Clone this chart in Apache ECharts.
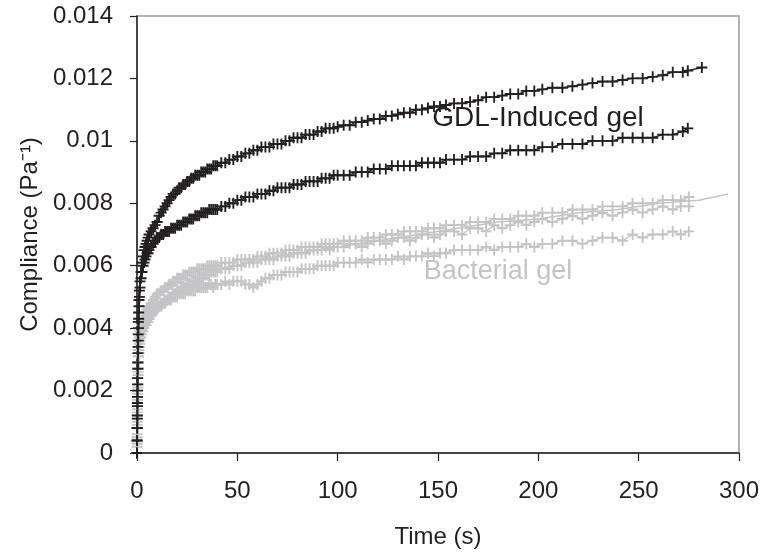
<!DOCTYPE html>
<html>
<head>
<meta charset="utf-8">
<script src="https://cdn.jsdelivr.net/npm/echarts@6/dist/echarts.min.js"></script>
<style>
html,body{margin:0;padding:0;background:#fff;}
#chart{width:762px;height:554px;}
</style>
</head>
<body>
<div id="chart"></div>
<script>
// Time points (s)
const tGdl = [0, 0.05, 0.1, 0.15, 0.2, 0.25, 0.3, 0.4, 0.5, 0.6,
  0.7, 0.8, 1, 1.2, 1.5, 2, 2.5, 3, 3.5, 4,
  4.5, 5, 5.5, 6, 7, 8, 9, 10, 11, 12,
  13, 14, 15, 16, 17, 18, 19, 20, 21, 22,
  23, 24, 25, 26, 27, 28, 29, 30, 31, 32,
  33, 34, 35, 36, 37, 38, 39, 40, 42, 44,
  46, 48, 50, 52, 54, 56, 58, 60, 62, 64,
  66, 68, 70, 72, 74, 76, 78, 80, 82, 84,
  86, 88, 90, 92, 94, 96, 98, 100, 103, 106,
  109, 112, 115, 118, 121, 124, 127, 130, 133, 136,
  139, 142, 145, 148, 151, 154, 158, 162, 166, 170,
  174, 178, 182, 186, 190, 194, 198, 202, 207, 212,
  217, 222, 227, 232, 237, 242, 247, 252, 257, 262,
  267, 272, 274.5, 281.5];
const tBac = [0, 0.05, 0.1, 0.15, 0.2, 0.25, 0.3, 0.4, 0.5, 0.6,
  0.7, 0.8, 1, 1.2, 1.5, 2, 2.5, 3, 3.5, 4,
  4.5, 5, 5.5, 6, 7, 8, 9, 10, 11, 12,
  13, 14, 15, 16, 17, 18, 19, 20, 21, 22,
  23, 24, 25, 26, 27, 28, 29, 30, 31, 32,
  33, 34, 35, 36, 37, 38, 39, 40, 42, 44,
  46, 48, 50, 52, 54, 56, 58, 60, 62, 64,
  66, 68, 70, 72, 74, 76, 78, 80, 82, 84,
  86, 88, 90, 92, 94, 96, 98, 100, 103, 106,
  109, 112, 115, 118, 121, 124, 127, 130, 133, 136,
  139, 142, 145, 148, 151, 154, 158, 162, 166, 170,
  174, 178, 182, 186, 190, 194, 198, 202, 207, 212,
  217, 222, 227, 232, 237, 242, 247, 252, 257, 262,
  267, 271, 275];
const tFit = [0, 0.5, 1, 2, 4, 6, 10, 15, 20, 30, 40, 50, 60, 80, 100, 120, 140, 160, 180, 200, 220, 240, 260, 280, 294.5];

// Compliance (1/Pa)
const gdlUpper = [0, 0.0004, 0.0008, 0.0012, 0.0016, 0.0020, 0.0024, 0.0029, 0.0034, 0.0038,
  0.0042, 0.0045, 0.0049, 0.0052, 0.0055, 0.0058, 0.0061, 0.0063, 0.0065, 0.0066,
  0.0067, 0.0068, 0.0069, 0.0070, 0.0071, 0.0072, 0.0073, 0.0074, 0.0076, 0.0077,
  0.0078, 0.0079, 0.0080, 0.0081, 0.0082, 0.0083, 0.0083, 0.0084, 0.0085, 0.0085,
  0.0086, 0.0086, 0.0087, 0.0087, 0.0088, 0.0088, 0.0089, 0.0089, 0.0089, 0.0090,
  0.0090, 0.0090, 0.0091, 0.0091, 0.0091, 0.0092, 0.0092, 0.0092, 0.0093, 0.0093,
  0.0094, 0.0094, 0.0095, 0.0095, 0.0096, 0.0096, 0.0097, 0.0097, 0.0098, 0.0098,
  0.0098, 0.0099, 0.0099, 0.0099, 0.0100, 0.0100, 0.0101, 0.0101, 0.0101, 0.0102,
  0.0102, 0.0102, 0.0103, 0.0103, 0.0104, 0.0104, 0.0104, 0.01045, 0.0105, 0.0105,
  0.0106, 0.0106, 0.01065, 0.0107, 0.0107, 0.0108, 0.0108, 0.01085, 0.0109, 0.0109,
  0.0110, 0.0110, 0.01105, 0.0111, 0.0111, 0.01115, 0.0112, 0.0112, 0.01125, 0.0113,
  0.0114, 0.0114, 0.01145, 0.0115, 0.0115, 0.0116, 0.0116, 0.01165, 0.0117, 0.0117,
  0.01175, 0.0118, 0.01185, 0.0119, 0.0119, 0.01195, 0.0120, 0.0120, 0.01205, 0.0121,
  0.0122, 0.0122, 0.01225, 0.01235];
const gdlLower = [0, 0.0004, 0.0008, 0.0011, 0.0015, 0.0018, 0.0022, 0.0027, 0.0032, 0.0036,
  0.0040, 0.0043, 0.0047, 0.0050, 0.0053, 0.0056, 0.0058, 0.0060, 0.0061, 0.0062,
  0.0063, 0.0064, 0.0064, 0.0065, 0.0066, 0.0067, 0.0068, 0.0069, 0.0069, 0.0070,
  0.0070, 0.0071, 0.0071, 0.0071, 0.0072, 0.0072, 0.0072, 0.0073, 0.0073, 0.0073,
  0.0074, 0.0074, 0.0074, 0.0075, 0.0075, 0.0075, 0.0076, 0.0076, 0.0076, 0.0077,
  0.0077, 0.0077, 0.0077, 0.0078, 0.0078, 0.0078, 0.0078, 0.0078, 0.0079, 0.0079,
  0.0080, 0.0080, 0.0081, 0.0081, 0.0082, 0.0082, 0.0082, 0.0083, 0.0083, 0.0083,
  0.0084, 0.0084, 0.0085, 0.0085, 0.0085, 0.0085, 0.0086, 0.0086, 0.0086, 0.0087,
  0.0087, 0.0087, 0.0087, 0.0088, 0.0088, 0.0088, 0.0089, 0.0089, 0.0089, 0.0089,
  0.0090, 0.0090, 0.0090, 0.0091, 0.0091, 0.0091, 0.0092, 0.0092, 0.0092, 0.0092,
  0.0092, 0.0093, 0.0093, 0.0093, 0.0093, 0.0094, 0.0094, 0.0094, 0.0095, 0.0095,
  0.0095, 0.0096, 0.0096, 0.0097, 0.0097, 0.0097, 0.0097, 0.0098, 0.0098, 0.0099,
  0.0099, 0.0099, 0.0100, 0.0100, 0.0100, 0.0101, 0.0101, 0.0101, 0.0101, 0.0102,
  0.0102, 0.0103, 0.0104];
const bacA = [0, 0.0003, 0.0006, 0.0009, 0.0012, 0.0015, 0.0018, 0.0022, 0.0026, 0.0029,
  0.0031, 0.0033, 0.0035, 0.0037, 0.0039, 0.0041, 0.0042, 0.0043, 0.0044, 0.0045,
  0.0045, 0.0046, 0.0046, 0.0047, 0.0048, 0.0049, 0.0050, 0.0051, 0.0051, 0.0052,
  0.0052, 0.0053, 0.0053, 0.0054, 0.0054, 0.0055, 0.0055, 0.0056, 0.0056, 0.0056,
  0.0057, 0.0057, 0.0057, 0.0058, 0.0058, 0.0058, 0.0058, 0.0059, 0.0059, 0.0059,
  0.0059, 0.0059, 0.0060, 0.0060, 0.0060, 0.0060, 0.0060, 0.0060, 0.0061, 0.0061,
  0.0061, 0.0061, 0.0062, 0.0062, 0.0062, 0.0062, 0.0062, 0.0063, 0.0063, 0.0063,
  0.0064, 0.0064, 0.0064, 0.0064, 0.0065, 0.0065, 0.0065, 0.0065, 0.0066, 0.0066,
  0.0066, 0.0066, 0.0066, 0.0067, 0.0067, 0.0067, 0.0067, 0.0067, 0.0068, 0.0068,
  0.0068, 0.0068, 0.0069, 0.0069, 0.0069, 0.0070, 0.0070, 0.0070, 0.0071, 0.0071,
  0.0071, 0.0071, 0.0072, 0.0072, 0.0072, 0.0073, 0.0073, 0.0073, 0.0074, 0.0074,
  0.0074, 0.0075, 0.0075, 0.0075, 0.0076, 0.0076, 0.0076, 0.0077, 0.0077, 0.0077,
  0.0078, 0.0078, 0.0078, 0.0079, 0.0079, 0.0079, 0.0080, 0.0080, 0.0080, 0.0081,
  0.0081, 0.0081, 0.0082];
const bacB = [0, 0.0003, 0.0005, 0.0008, 0.0011, 0.0014, 0.0017, 0.0021, 0.0024, 0.0027,
  0.0029, 0.0031, 0.0033, 0.0035, 0.0037, 0.0038, 0.0039, 0.0040, 0.0041, 0.0041,
  0.0042, 0.0042, 0.0043, 0.0043, 0.0044, 0.0045, 0.0046, 0.0047, 0.0047, 0.0048,
  0.0048, 0.0049, 0.0049, 0.0050, 0.0050, 0.0051, 0.0051, 0.0052, 0.0052, 0.0053,
  0.0053, 0.0053, 0.0054, 0.0054, 0.0054, 0.0055, 0.0055, 0.0055, 0.0056, 0.0056,
  0.0056, 0.0057, 0.0057, 0.0057, 0.0058, 0.0058, 0.0058, 0.0058, 0.0059, 0.0059,
  0.0059, 0.0060, 0.0060, 0.0060, 0.0061, 0.0061, 0.0061, 0.0061, 0.0062, 0.0062,
  0.0062, 0.0062, 0.0063, 0.0063, 0.0063, 0.0063, 0.0064, 0.0064, 0.0064, 0.0064,
  0.0065, 0.0065, 0.0065, 0.0065, 0.0066, 0.0065, 0.0066, 0.0066, 0.0066, 0.0067,
  0.0067, 0.0066, 0.0067, 0.0068, 0.0068, 0.0067, 0.0068, 0.0069, 0.0069, 0.0068,
  0.0069, 0.0070, 0.0070, 0.0069, 0.0070, 0.0071, 0.0071, 0.0070, 0.0072, 0.0072,
  0.0071, 0.0073, 0.0072, 0.0073, 0.0074, 0.0073, 0.0074, 0.0075, 0.0074, 0.0075,
  0.0076, 0.0075, 0.0076, 0.0077, 0.0076, 0.0077, 0.0078, 0.0077, 0.0078, 0.0079,
  0.0078, 0.0079, 0.0079];
const bacC = [0, 0.0002, 0.0005, 0.0008, 0.0010, 0.0013, 0.0016, 0.0019, 0.0022, 0.0025,
  0.0027, 0.0029, 0.0032, 0.0034, 0.0036, 0.0037, 0.0038, 0.0039, 0.0040, 0.0041,
  0.0041, 0.0042, 0.0042, 0.0043, 0.0044, 0.0045, 0.0046, 0.0046, 0.0047, 0.0047,
  0.0048, 0.0048, 0.0049, 0.0049, 0.0049, 0.0050, 0.0050, 0.0050, 0.0051, 0.0051,
  0.0051, 0.0051, 0.0052, 0.0052, 0.0052, 0.0052, 0.0052, 0.0053, 0.0053, 0.0053,
  0.0053, 0.0053, 0.0053, 0.0054, 0.0054, 0.0053, 0.0054, 0.0054, 0.0054, 0.0055,
  0.0054, 0.0055, 0.0055, 0.0055, 0.0054, 0.0054, 0.0053, 0.0054, 0.0055, 0.0056,
  0.0056, 0.0057, 0.0057, 0.0057, 0.0058, 0.0058, 0.0058, 0.0058, 0.0059, 0.0059,
  0.0059, 0.0059, 0.0060, 0.0060, 0.0060, 0.0060, 0.0060, 0.0061, 0.0061, 0.0061,
  0.0061, 0.0062, 0.0061, 0.0062, 0.0062, 0.0062, 0.0062, 0.0063, 0.0062, 0.0063,
  0.0063, 0.0063, 0.0064, 0.0063, 0.0064, 0.0064, 0.0065, 0.0065, 0.0065, 0.0065,
  0.0066, 0.0065, 0.0066, 0.0066, 0.0066, 0.0067, 0.0066, 0.0067, 0.0067, 0.0068,
  0.0068, 0.0067, 0.0068, 0.0069, 0.0069, 0.0068, 0.0070, 0.0069, 0.0070, 0.0070,
  0.0071, 0.0070, 0.0071];
const bacFit = [0.0030, 0.0036, 0.0039, 0.0042, 0.0045, 0.0047, 0.0050, 0.0052, 0.0054, 0.0057,
  0.0059, 0.0060, 0.0062, 0.0064, 0.0066, 0.0068, 0.0070, 0.0072, 0.0074, 0.0075,
  0.0077, 0.0078, 0.0080, 0.0081, 0.0083];

const xTicks = { min: 0, max: 300, interval: 50 };
const yTicks = { min: 0, max: 0.014, interval: 0.002 };

function zip(t, v) { return v.map((y, i) => [t[i], y]); }

const BLACK = '#231f20';
const GREY = '#c4c4c6';
const plus = 'path://M0,4.15H4.15V0H5.85V4.15H10V5.85H5.85V10H4.15V5.85H0Z';
const FONT = '"Liberation Sans", Arial, sans-serif';

function markSeries(name, t, v, color) {
  return {
    name: name, type: 'line', data: zip(t, v),
    symbol: plus, symbolSize: 11, clip: false,
    lineStyle: { color: color, width: 1.3 },
    itemStyle: { color: color },
    emphasis: { disabled: true }
  };
}

const chart = echarts.init(document.getElementById('chart'));
chart.setOption({
  animation: false,
  backgroundColor: '#fff',
  grid: { left: 137, right: 23, top: 16, bottom: 99, show: true, borderColor: '#9a9a9a', borderWidth: 1.5 },
  xAxis: {
    type: 'value', min: xTicks.min, max: xTicks.max, interval: xTicks.interval,
    name: 'Time (s)', nameLocation: 'middle', nameGap: 72,
    nameTextStyle: { fontFamily: FONT, fontSize: 24, color: BLACK },
    axisLine: { show: true, lineStyle: { color: BLACK, width: 1.5 } },
    axisTick: { show: true, inside: false, length: 8, lineStyle: { color: BLACK, width: 1.2 } },
    axisLabel: { fontFamily: FONT, fontSize: 24, color: BLACK, margin: 26 },
    splitLine: { show: false }
  },
  yAxis: {
    type: 'value', min: yTicks.min, max: yTicks.max, interval: yTicks.interval,
    name: 'Compliance (Pa\u207B\u00B9)', nameLocation: 'middle', nameGap: 92,
    nameTextStyle: { fontFamily: FONT, fontSize: 24, color: BLACK },
    axisLine: { show: true, lineStyle: { color: BLACK, width: 1.5 } },
    axisTick: { show: true, inside: false, length: 7, lineStyle: { color: BLACK, width: 1.2 } },
    axisLabel: { fontFamily: FONT, fontSize: 24, color: BLACK, margin: 24 },
    splitLine: { show: false }
  },
  series: [
    { name: 'Bacterial fit', type: 'line', data: zip(tFit, bacFit), symbol: 'none', clip: false,
      lineStyle: { color: GREY, width: 1.5 }, emphasis: { disabled: true } },
    markSeries('Bacterial C', tBac, bacC, GREY),
    markSeries('Bacterial B', tBac, bacB, GREY),
    markSeries('Bacterial A', tBac, bacA, GREY),
    markSeries('GDL lower', tGdl, gdlLower, BLACK),
    markSeries('GDL upper', tGdl, gdlUpper, BLACK)
  ],
  graphic: [
    { type: 'text', x: 538, y: 118, z: 100,
      style: { text: 'GDL-Induced gel', fill: BLACK, font: '28px ' + FONT, textAlign: 'center', textVerticalAlign: 'middle' } },
    { type: 'text', x: 498, y: 272, z: 100,
      style: { text: 'Bacterial gel', fill: GREY, font: '27px ' + FONT, textAlign: 'center', textVerticalAlign: 'middle' } }
  ]
});
</script>
</body>
</html>
